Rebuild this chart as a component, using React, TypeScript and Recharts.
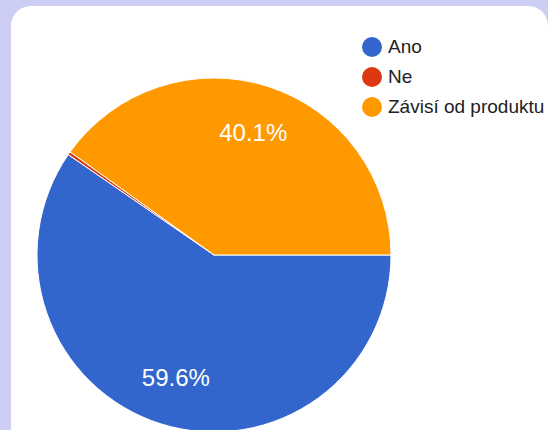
import { PieChart, Pie, Cell, Legend } from 'recharts';

const categories = ['Ano', 'Ne', 'Závisí od produktu'];
const shares = [59.6, 0.3, 40.1];
const colors = ['#3366cc', '#dc3912', '#ff9900'];

const data = categories.map((name, i) => ({ name, value: shares[i] }));

const RADIAN = Math.PI / 180;
const FONT = '"Liberation Sans", Arial, sans-serif';

function renderLabel(props: any) {
  const { cx, cy, midAngle, outerRadius, value } = props;
  if (value < 5) return null;
  const r = outerRadius * 0.725;
  const x = cx + r * Math.cos(-midAngle * RADIAN);
  const y = cy + r * Math.sin(-midAngle * RADIAN);
  return (
    <text x={x} y={y} fill="#ffffff" fontSize={24} fontFamily={FONT} textAnchor="middle" dominantBaseline="central">
      {value.toFixed(1)}%
    </text>
  );
}

function LegendBox() {
  return (
    <div style={{ fontFamily: FONT, fontSize: 19, color: '#222' }}>
      {categories.map((c, i) => (
        <div key={c} style={{ display: 'flex', alignItems: 'center', height: 30 }}>
          <span style={{ width: 20, height: 20, borderRadius: 10, background: colors[i], marginRight: 6, flexShrink: 0 }} />
          <span style={{ whiteSpace: 'nowrap' }}>{c}</span>
        </div>
      ))}
    </div>
  );
}

export default function App() {
  return (
    <div style={{ position: 'fixed', left: 0, top: 0, width: 548, height: 430, background: '#cdcef4', overflow: 'hidden' }}>
      <div style={{ position: 'absolute', left: 11, top: 6, width: 537, height: 450, background: '#ffffff', borderRadius: 20 }} />
      <div style={{ position: 'absolute', left: 0, top: 0 }}>
        <PieChart width={548} height={430} margin={{ top: 0, right: 0, bottom: 0, left: 0 }}>
          <Pie
            data={data}
            dataKey="value"
            nameKey="name"
            cx={214}
            cy={255}
            outerRadius={177}
            startAngle={0}
            endAngle={-360}
            stroke="#ffffff"
            strokeWidth={1}
            label={renderLabel}
            labelLine={false}
            isAnimationActive={false}
          >
            {data.map((d, i) => (
              <Cell key={d.name} fill={colors[i]} />
            ))}
          </Pie>
          <Legend content={<LegendBox />} wrapperStyle={{ position: 'absolute', left: 362, top: 32, width: 186 }} />
        </PieChart>
      </div>
    </div>
  );
}
